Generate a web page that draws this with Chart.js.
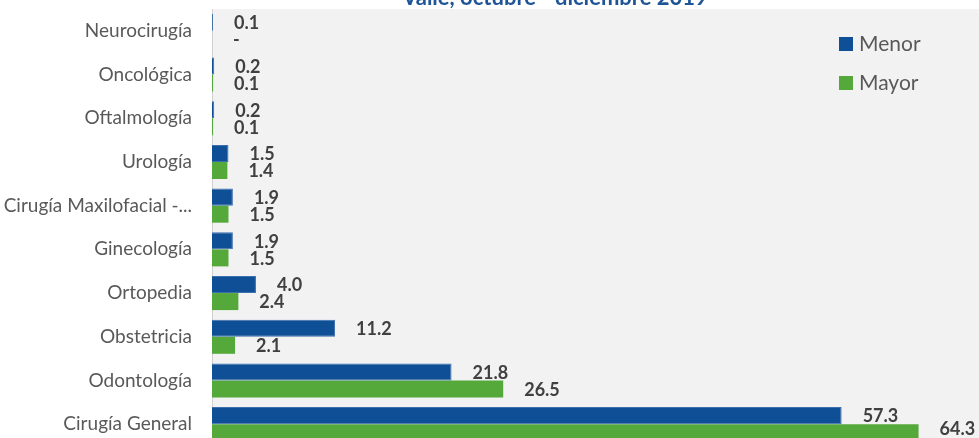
<!DOCTYPE html>
<html lang="es">
<head>
<meta charset="utf-8">
<script src="https://cdn.jsdelivr.net/npm/chart.js@4"></script>
<style>
  html, body { margin: 0; padding: 0; background: #ffffff; overflow: hidden; }
  canvas { display: block; }
</style>
</head>
<body>
<canvas id="visu" width="979" height="446"></canvas>
<script>
// Especialidades, de arriba hacia abajo
const especialidades = [
    'Neurocirugía',
    'Oncológica',
    'Oftalmología',
    'Urología',
    'Cirugía Maxilofacial -...',
    'Ginecología',
    'Ortopedia',
    'Obstetricia',
    'Odontología',
    'Cirugía General'
];
const menor = [0.1, 0.2, 0.2, 1.5, 1.9, 1.9, 4.0, 11.2, 21.8, 57.3];
const mayor = [0, 0.1, 0.1, 1.4, 1.5, 1.5, 2.4, 2.1, 26.5, 64.3];
const titulo = 'Valle, octubre - diciembre 2019';

const AZUL = '#0f4f96';
const VERDE = '#55a83a';
const FUENTE = 'Lato, "Open Sans", sans-serif';

// fondo gris solo en el área del gráfico + título cortado arriba
const fondo = {
    id: 'fondo',
    beforeDraw(chart) {
        const { ctx, chartArea: a } = chart;
        ctx.save();
        ctx.fillStyle = '#f2f2f2';
        ctx.fillRect(a.left, a.top, chart.width - a.left, chart.height - a.top);
        ctx.fillStyle = '#1f5597';
        ctx.font = 'bold 22px ' + FUENTE;
        ctx.textAlign = 'center';
        ctx.textBaseline = 'alphabetic';
        ctx.fillText(titulo, 555, 5);
        ctx.restore();
    }
};

// etiquetas de valor a la derecha de cada barra (sin salirse por abajo)
const etiquetas = {
    id: 'etiquetas',
    afterDatasetsDraw(chart) {
        const { ctx } = chart;
        ctx.save();
        ctx.font = 'bold 18px ' + FUENTE;
        ctx.fillStyle = '#404040';
        ctx.textAlign = 'left';
        ctx.textBaseline = 'middle';
        chart.data.datasets.forEach((ds, i) => {
            chart.getDatasetMeta(i).data.forEach((bar, j) => {
                const v = ds.data[j];
                const txt = v === 0 ? '-' : v.toFixed(1);
                ctx.fillText(txt, bar.x + 21, Math.min(bar.y + 1, 429));
            });
        });
        ctx.restore();
    }
};

// leyenda dentro del área del gráfico, arriba a la derecha
const leyenda = {
    id: 'leyenda',
    afterDraw(chart) {
        const { ctx } = chart;
        ctx.save();
        ctx.font = '21px ' + FUENTE;
        ctx.textBaseline = 'middle';
        chart.data.datasets.forEach((ds, i) => {
            const y = 44 + i * 39;
            ctx.fillStyle = ds.backgroundColor;
            ctx.fillRect(839, y - 7, 14, 14);
            ctx.fillStyle = '#595959';
            ctx.fillText(ds.label, 859, y);
        });
        ctx.restore();
    }
};

const config = {
    type: 'bar',
    data: {
        labels: especialidades,
        datasets: [
            { label: 'Menor', data: menor, backgroundColor: AZUL, borderColor: '#3b6fae', borderWidth: { top: 1, right: 1, bottom: 1 }, borderSkipped: 'start' },
            { label: 'Mayor', data: mayor, backgroundColor: VERDE, borderColor: VERDE, borderWidth: 0 }
        ]
    },
    options: {
        indexAxis: 'y',
        responsive: false,
        animation: false,
        categoryPercentage: 0.78,
        barPercentage: 1,
        layout: { padding: { top: 9, bottom: 0, left: 0, right: 0 } },
        scales: {
            x: {
                display: false,
                min: 0,
                max: 69.8
            },
            y: {
                afterFit: scale => {
                    scale.width = 212;
                    scale.paddingTop = 0;
                    scale.paddingBottom = 0;
                },
                grid: { display: false, drawTicks: false },
                border: { display: true, color: '#d0d0d0', width: 1 },
                ticks: {
                    padding: 20,
                    color: '#595959',
                    font: { family: FUENTE, size: 19 }
                }
            }
        },
        plugins: {
            legend: { display: false },
            tooltip: { enabled: false }
        }
    },
    plugins: [fondo, etiquetas, leyenda]
};

new Chart(document.getElementById('visu'), config);
</script>
</body>
</html>
